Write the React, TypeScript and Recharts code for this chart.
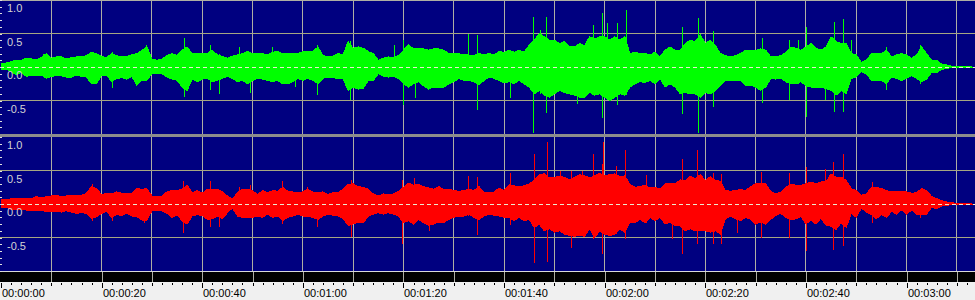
import React from "react";
import {
  ComposedChart,
  CartesianGrid,
  XAxis,
  YAxis,
  Area,
  Scatter,
  ErrorBar,
  ReferenceLine,
} from "recharts";

// seconds, one envelope sample per second
const TIMES = [
  0, 1, 2, 3, 4, 5, 6, 7, 8, 9,
  10, 11, 12, 13, 14, 15, 16, 17, 18, 19,
  20, 21, 22, 23, 24, 25, 26, 27, 28, 29,
  30, 31, 32, 33, 34, 35, 36, 37, 38, 39,
  40, 41, 42, 43, 44, 45, 46, 47, 48, 49,
  50, 51, 52, 53, 54, 55, 56, 57, 58, 59,
  60, 61, 62, 63, 64, 65, 66, 67, 68, 69,
  70, 71, 72, 73, 74, 75, 76, 77, 78, 79,
  80, 81, 82, 83, 84, 85, 86, 87, 88, 89,
  90, 91, 92, 93, 94, 95, 96, 97, 98, 99,
  100, 101, 102, 103, 104, 105, 106, 107, 108, 109,
  110, 111, 112, 113, 114, 115, 116, 117, 118, 119,
  120, 121, 122, 123, 124, 125, 126, 127, 128, 129,
  130, 131, 132, 133, 134, 135, 136, 137, 138, 139,
  140, 141, 142, 143, 144, 145, 146, 147, 148, 149,
  150, 151, 152, 153, 154, 155, 156, 157, 158, 159,
  160, 161, 162, 163, 164, 165, 166, 167, 168, 169,
  170, 171, 172, 173, 174, 175, 176, 177, 178, 179,
  180, 181, 182, 183, 184, 185, 186, 187, 188, 189,
  190, 191, 192, 193, 194,
];

// left channel (green) envelope
const GREEN_HI = [
  0.05, 0.06, 0.08, 0.1, 0.1, 0.13, 0.12, 0.11, 0.14, 0.2,
  0.13, 0.15, 0.15, 0.12, 0.14, 0.15, 0.15, 0.17, 0.22, 0.2,
  0.16, 0.14, 0.2, 0.17, 0.15, 0.16, 0.18, 0.2, 0.25, 0.3,
  0.12, 0.1, 0.12, 0.17, 0.2, 0.17, 0.25, 0.3, 0.2, 0.2,
  0.2, 0.2, 0.25, 0.18, 0.16, 0.13, 0.16, 0.18, 0.2, 0.23,
  0.2, 0.2, 0.2, 0.18, 0.22, 0.23, 0.2, 0.2, 0.2, 0.2,
  0.23, 0.23, 0.23, 0.3, 0.17, 0.15, 0.16, 0.2, 0.18, 0.38,
  0.28, 0.3, 0.28, 0.23, 0.2, 0.1, 0.13, 0.15, 0.14, 0.17,
  0.25, 0.33, 0.27, 0.27, 0.27, 0.25, 0.27, 0.27, 0.25, 0.2,
  0.2, 0.2, 0.18, 0.18, 0.17, 0.2, 0.18, 0.2, 0.18, 0.23,
  0.22, 0.25, 0.22, 0.25, 0.22, 0.33, 0.4, 0.5, 0.45, 0.4,
  0.4, 0.35, 0.38, 0.3, 0.3, 0.35, 0.32, 0.45, 0.42, 0.45,
  0.45, 0.4, 0.45, 0.4, 0.45, 0.2, 0.22, 0.2, 0.2, 0.18,
  0.22, 0.15, 0.25, 0.3, 0.25, 0.25, 0.35, 0.4, 0.38, 0.48,
  0.35, 0.4, 0.32, 0.2, 0.17, 0.15, 0.17, 0.2, 0.25, 0.25,
  0.25, 0.27, 0.25, 0.15, 0.15, 0.17, 0.22, 0.3, 0.28, 0.25,
  0.3, 0.35, 0.28, 0.25, 0.3, 0.45, 0.38, 0.35, 0.35, 0.2,
  0.18, 0.07, 0.1, 0.2, 0.2, 0.2, 0.25, 0.15, 0.18, 0.2,
  0.18, 0.13, 0.18, 0.3, 0.2, 0.1, 0.1, 0.04, 0.03, 0.01,
  0.01, 0.005, 0.005, 0, 0,
];
const GREEN_LO = [
  -0.04, -0.03, -0.06, -0.12, -0.08, -0.14, -0.12, -0.12, -0.12, -0.17,
  -0.14, -0.13, -0.13, -0.15, -0.15, -0.12, -0.14, -0.15, -0.25, -0.25,
  -0.12, -0.12, -0.22, -0.17, -0.16, -0.18, -0.14, -0.27, -0.2, -0.2,
  -0.1, -0.1, -0.1, -0.15, -0.18, -0.2, -0.3, -0.35, -0.18, -0.22,
  -0.18, -0.17, -0.22, -0.2, -0.17, -0.14, -0.17, -0.22, -0.2, -0.25,
  -0.2, -0.17, -0.18, -0.2, -0.22, -0.2, -0.25, -0.25, -0.22, -0.17,
  -0.2, -0.17, -0.2, -0.25, -0.17, -0.15, -0.16, -0.17, -0.18, -0.35,
  -0.3, -0.33, -0.32, -0.2, -0.2, -0.1, -0.14, -0.15, -0.14, -0.17,
  -0.25, -0.3, -0.25, -0.22, -0.28, -0.33, -0.3, -0.3, -0.3, -0.25,
  -0.22, -0.17, -0.2, -0.2, -0.22, -0.27, -0.2, -0.15, -0.17, -0.2,
  -0.24, -0.22, -0.25, -0.2, -0.25, -0.3, -0.4, -0.35, -0.42, -0.45,
  -0.4, -0.35, -0.38, -0.4, -0.42, -0.45, -0.45, -0.38, -0.42, -0.4,
  -0.45, -0.5, -0.45, -0.4, -0.42, -0.3, -0.25, -0.22, -0.23, -0.2,
  -0.25, -0.17, -0.3, -0.25, -0.3, -0.4, -0.38, -0.4, -0.4, -0.45,
  -0.38, -0.4, -0.35, -0.27, -0.2, -0.2, -0.2, -0.2, -0.28, -0.27,
  -0.3, -0.35, -0.3, -0.17, -0.18, -0.17, -0.22, -0.25, -0.25, -0.22,
  -0.28, -0.3, -0.3, -0.3, -0.32, -0.35, -0.42, -0.35, -0.4, -0.17,
  -0.15, -0.07, -0.1, -0.2, -0.2, -0.2, -0.25, -0.15, -0.17, -0.2,
  -0.17, -0.13, -0.17, -0.22, -0.18, -0.08, -0.08, -0.04, -0.02, -0.01,
  -0.01, -0.005, -0.005, 0, 0,
];

// right channel (red) envelope
const RED_HI = [
  0.07, 0.06, 0.08, 0.08, 0.08, 0.08, 0.08, 0.11, 0.09, 0.11,
  0.12, 0.13, 0.11, 0.12, 0.12, 0.13, 0.13, 0.16, 0.26, 0.23,
  0.14, 0.16, 0.15, 0.18, 0.16, 0.16, 0.15, 0.23, 0.22, 0.23,
  0.12, 0.11, 0.12, 0.18, 0.2, 0.2, 0.22, 0.28, 0.17, 0.2,
  0.16, 0.22, 0.22, 0.22, 0.18, 0.12, 0.07, 0.17, 0.22, 0.22,
  0.2, 0.14, 0.2, 0.17, 0.2, 0.19, 0.25, 0.19, 0.18, 0.17,
  0.18, 0.22, 0.18, 0.17, 0.18, 0.14, 0.17, 0.17, 0.22, 0.29,
  0.3, 0.26, 0.25, 0.22, 0.15, 0.12, 0.15, 0.14, 0.15, 0.19,
  0.25, 0.31, 0.28, 0.29, 0.26, 0.24, 0.22, 0.26, 0.22, 0.22,
  0.2, 0.19, 0.2, 0.22, 0.2, 0.26, 0.18, 0.17, 0.18, 0.24,
  0.2, 0.29, 0.27, 0.26, 0.27, 0.3, 0.35, 0.44, 0.45, 0.39,
  0.4, 0.41, 0.4, 0.36, 0.4, 0.44, 0.42, 0.39, 0.42, 0.46,
  0.42, 0.44, 0.45, 0.41, 0.42, 0.29, 0.25, 0.26, 0.28, 0.24,
  0.25, 0.22, 0.3, 0.3, 0.3, 0.36, 0.35, 0.41, 0.38, 0.44,
  0.35, 0.41, 0.35, 0.34, 0.2, 0.19, 0.2, 0.22, 0.2, 0.26,
  0.3, 0.31, 0.3, 0.19, 0.15, 0.18, 0.25, 0.3, 0.28, 0.28,
  0.3, 0.33, 0.3, 0.33, 0.33, 0.45, 0.4, 0.4, 0.35, 0.23,
  0.2, 0.13, 0.15, 0.25, 0.25, 0.23, 0.2, 0.18, 0.18, 0.18,
  0.18, 0.16, 0.17, 0.23, 0.2, 0.11, 0.08, 0.05, 0.03, 0.02,
  0.01, 0.005, 0.005, 0, 0,
];
const RED_LO = [
  -0.05, -0.05, -0.08, -0.08, -0.08, -0.09, -0.09, -0.09, -0.1, -0.11,
  -0.11, -0.11, -0.12, -0.1, -0.12, -0.14, -0.13, -0.14, -0.22, -0.19,
  -0.14, -0.11, -0.2, -0.16, -0.17, -0.14, -0.18, -0.19, -0.24, -0.24,
  -0.1, -0.09, -0.1, -0.14, -0.2, -0.16, -0.25, -0.3, -0.18, -0.16,
  -0.17, -0.23, -0.22, -0.18, -0.22, -0.13, -0.06, -0.18, -0.2, -0.2,
  -0.2, -0.18, -0.2, -0.15, -0.2, -0.18, -0.25, -0.2, -0.18, -0.15,
  -0.18, -0.18, -0.2, -0.23, -0.18, -0.15, -0.17, -0.18, -0.22, -0.32,
  -0.3, -0.27, -0.28, -0.18, -0.15, -0.13, -0.15, -0.13, -0.15, -0.18,
  -0.28, -0.25, -0.3, -0.23, -0.28, -0.32, -0.3, -0.27, -0.28, -0.23,
  -0.2, -0.18, -0.18, -0.15, -0.2, -0.23, -0.18, -0.15, -0.17, -0.18,
  -0.2, -0.2, -0.25, -0.2, -0.25, -0.23, -0.35, -0.3, -0.4, -0.37,
  -0.42, -0.4, -0.45, -0.47, -0.48, -0.47, -0.48, -0.37, -0.5, -0.4,
  -0.45, -0.47, -0.45, -0.37, -0.42, -0.27, -0.28, -0.23, -0.28, -0.2,
  -0.25, -0.2, -0.3, -0.27, -0.32, -0.32, -0.4, -0.37, -0.4, -0.4,
  -0.4, -0.42, -0.4, -0.45, -0.22, -0.18, -0.22, -0.25, -0.2, -0.23,
  -0.3, -0.27, -0.3, -0.23, -0.17, -0.14, -0.2, -0.24, -0.22, -0.19,
  -0.3, -0.24, -0.3, -0.21, -0.32, -0.33, -0.38, -0.28, -0.35, -0.14,
  -0.2, -0.06, -0.12, -0.16, -0.22, -0.16, -0.2, -0.11, -0.15, -0.09,
  -0.15, -0.09, -0.15, -0.16, -0.15, -0.05, -0.07, -0.03, -0.02, -0.01,
  -0.01, -0.005, -0.005, 0, 0,
];

// isolated transients: [time s, peak, trough]
const GREEN_SPIKES: [number, number, number][] = [
  [8.5, 0.2, -0.12], [22.1, 0.22, -0.32], [27, 0.18, -0.27], [29, 0.33, -0.2],
  [36.4, 0.43, -0.45], [41.7, 0.33, -0.34], [43.5, 0.2, -0.4], [47.5, 0.3, -0.2],
  [49.5, 0.2, -0.39], [53.9, 0.3, -0.2], [58.5, 0.2, -0.3], [63, 0.33, -0.42],
  [69.4, 0.39, -0.49], [78.3, 0.33, -0.15], [80, 0.4, -0.57], [82.3, 0.27, -0.47],
  [93, 0.5, -0.2], [94.8, 0.48, -0.64], [101.2, 0.22, -0.47], [105.8, 0.75, -0.98],
  [107.2, 0.55, -0.4], [108.5, 0.75, -0.69], [114.5, 0.3, -0.55], [117.7, 0.63, -0.4],
  [119.5, 0.8, -0.76], [120.5, 0.65, -0.45], [122.5, 0.65, -0.56], [124.3, 0.85, -0.42],
  [135.4, 0.6, -0.7], [138.6, 0.73, -0.99], [141.6, 0.53, -0.6], [151.3, 0.43, -0.53],
  [156.7, 0.4, -0.49], [158.5, 0.4, -0.25], [160.2, 0.6, -0.75], [163.8, 0.3, -0.49],
  [165.6, 0.67, -0.67], [167.4, 0.72, -0.67], [169, 0.4, -0.18], [176, 0.3, -0.35],
  [182.7, 0.33, -0.25],
];
const RED_SPIKES: [number, number, number][] = [
  [18.1, 0.3, -0.26], [22.1, 0.15, -0.26], [28.6, 0.23, -0.28], [36.2, 0.35, -0.43],
  [41.7, 0.34, -0.35], [43.5, 0.18, -0.35], [47.5, 0.26, -0.2], [49.5, 0.28, -0.2],
  [55.9, 0.34, -0.3], [61, 0.26, -0.18], [63, 0.18, -0.35], [69.6, 0.36, -0.49],
  [79.9, 0.36, -0.59], [82.1, 0.39, -0.3], [85.1, 0.22, -0.4], [93, 0.42, -0.18],
  [94.8, 0.4, -0.47], [101.2, 0.47, -0.32], [106, 0.74, -0.88], [108.7, 0.93, -0.86],
  [111.3, 0.5, -0.42], [113.3, 0.5, -0.65], [115.5, 0.5, -0.48], [117.7, 0.74, -0.52],
  [119.5, 0.6, -0.74], [119.8, 0.92, -0.45], [122.3, 0.57, -0.45], [124.1, 0.8, -0.52],
  [128.4, 0.43, -0.28], [133.4, 0.3, -0.52], [135.4, 0.67, -0.74], [138.4, 0.8, -0.6],
  [141.6, 0.47, -0.6], [143.3, 0.45, -0.6], [146.3, 0.2, -0.43], [151.1, 0.48, -0.5],
  [156.7, 0.47, -0.5], [160.2, 0.55, -0.7], [163.8, 0.52, -0.32], [165.4, 0.62, -0.68],
  [167.4, 0.75, -0.63], [173.2, 0.33, -0.28], [182.7, 0.23, -0.21],
];

const LEVEL_TICKS = [
  -1, -0.9, -0.8, -0.7, -0.6, -0.5, -0.4, -0.3, -0.2, -0.1,
  0, 0.1, 0.2, 0.3, 0.4, 0.5, 0.6, 0.7, 0.8, 0.9, 1,
];
const LEVEL_LABELS = [1, 0.5, 0, -0.5];
const GRID_TIMES = [10, 20, 30, 40, 50, 60, 70, 80, 90, 100, 110, 120, 130, 140, 150, 160, 170, 180, 190];
const TIME_TICKS = [
  0, 2, 4, 6, 8, 10, 12, 14, 16, 18, 20, 22, 24, 26, 28, 30, 32, 34, 36, 38,
  40, 42, 44, 46, 48, 50, 52, 54, 56, 58, 60, 62, 64, 66, 68, 70, 72, 74, 76, 78,
  80, 82, 84, 86, 88, 90, 92, 94, 96, 98, 100, 102, 104, 106, 108, 110, 112, 114, 116, 118,
  120, 122, 124, 126, 128, 130, 132, 134, 136, 138, 140, 142, 144, 146, 148, 150, 152, 154, 156, 158,
  160, 162, 164, 166, 168, 170, 172, 174, 176, 178, 180, 182, 184, 186, 188, 190, 192,
];

const NAVY = "#000080";
const GRID_V = "#aeaea4";
const GRID_H = "#a6a682";
const FONT = "'Liberation Sans', Arial, sans-serif";
const W = 975;
const PANEL_H = 134;

const envRows = (hi: number[], lo: number[]) => TIMES.map((t, i) => ({ t, env: [lo[i], hi[i]] }));
// spike drawn as an error bar around 0: [distance down, distance up]
const spikeRows = (spikes: [number, number, number][]) =>
  spikes.map(([t, h, l]) => ({ t, mid: 0, err: [-l, h] }));

const pad = (n: number) => String(n).padStart(2, "0");
const fmtTime = (s: number) =>
  `${pad(Math.floor(s / 3600))}:${pad(Math.floor((s % 3600) / 60))}:${pad(s % 60)}`;

function LevelTick(props: any) {
  const { y, payload } = props;
  const v = payload.value;
  const yy = Math.round(y) + 0.5;
  const labelled = LEVEL_LABELS.some((l) => Math.abs(l - v) < 1e-6);
  return (
    <g>
      <line x1={0} x2={2} y1={yy} y2={yy} stroke="#e0e0e0" />
      {labelled && (
        <text x={7} y={y + 12} fill="#d4d4d4" fontSize={11} fontFamily={FONT}>
          {v.toFixed(1)}
        </text>
      )}
    </g>
  );
}

function TimeTick(props: any) {
  const { x, payload } = props;
  const t = payload.value;
  const xx = Math.round(x) + 0.5;
  const major = t % 20 === 0;
  const ten = t % 10 === 0;
  return (
    <g>
      {ten && t > 0 && <line x1={xx} x2={xx} y1={PANEL_H + 1} y2={PANEL_H + 11} stroke={GRID_V} />}
      <line x1={xx} x2={xx} y1={PANEL_H + 12} y2={PANEL_H + (major ? 17 : ten ? 15 : 14)} stroke="#000" />
      {major && (
        <text x={Math.round(x) + 1} y={PANEL_H + 26} fill="#000" fontSize={11} fontFamily={FONT}>
          {fmtTime(t)}
        </text>
      )}
    </g>
  );
}

function Channel({ env, spikes, color, withTime }: { env: any[]; spikes: any[]; color: string; withTime: boolean }) {
  return (
    <ComposedChart
      width={W}
      height={withTime ? PANEL_H + 29 : PANEL_H}
      data={env}
      margin={{ top: 0, right: 0, bottom: 0, left: 0 }}
    >
      <CartesianGrid stroke={GRID_V} horizontal={false} verticalValues={GRID_TIMES} />
      <CartesianGrid stroke={GRID_H} vertical={false} horizontalValues={[0.5, -0.5]} />
      <XAxis
        type="number"
        dataKey="t"
        domain={[-0.2, 193.6]}
        allowDataOverflow
        ticks={TIME_TICKS}
        interval={0}
        hide={!withTime}
        height={29}
        axisLine={false}
        tickLine={false}
        tick={(p: any) => <TimeTick {...p} />}
      />
      <YAxis
        type="number"
        domain={[-1, 1]}
        allowDataOverflow
        ticks={LEVEL_TICKS}
        interval={0}
        mirror
        axisLine={false}
        tickLine={false}
        tick={(p: any) => <LevelTick {...p} />}
      />
      <Area
        dataKey="env"
        type="linear"
        stroke={color}
        strokeWidth={1}
        fill={color}
        fillOpacity={1}
        dot={false}
        activeDot={false}
        isAnimationActive={false}
      />
      <Scatter data={spikes} dataKey="mid" fill={color} isAnimationActive={false} shape={() => <g />}>
        <ErrorBar dataKey="err" direction="y" width={0} stroke={color} strokeWidth={1} isAnimationActive={false} />
      </Scatter>
      <ReferenceLine y={0} stroke="#ecebd0" strokeDasharray="4 3" />
    </ComposedChart>
  );
}

export default function App() {
  return (
    <div style={{ position: "absolute", left: 0, top: 0, width: W, height: 300, overflow: "hidden", background: NAVY }}>
      <style>{`.recharts-surface { shape-rendering: crispEdges; }`}</style>
      {/* frame pieces behind the charts */}
      <div style={{ position: "absolute", left: 0, top: 0, width: W, height: 1, background: GRID_V }} />
      <div style={{ position: "absolute", left: 0, top: 134, width: W, height: 3, background: "#8c8c8c" }} />
      <div style={{ position: "absolute", left: 0, top: 271, width: W, height: 1, background: "#d8d8d8" }} />
      <div style={{ position: "absolute", left: 0, top: 272, width: W, height: 10, background: "#000" }} />
      <div style={{ position: "absolute", left: 0, top: 282, width: W, height: 18, background: "#f0f0f0" }} />

      <div style={{ position: "absolute", left: 0, top: 0 }}>
        <Channel env={envRows(GREEN_HI, GREEN_LO)} spikes={spikeRows(GREEN_SPIKES)} color="#00ff00" withTime={false} />
      </div>
      <div style={{ position: "absolute", left: 0, top: 137 }}>
        <Channel env={envRows(RED_HI, RED_LO)} spikes={spikeRows(RED_SPIKES)} color="#ff0000" withTime />
      </div>
    </div>
  );
}
